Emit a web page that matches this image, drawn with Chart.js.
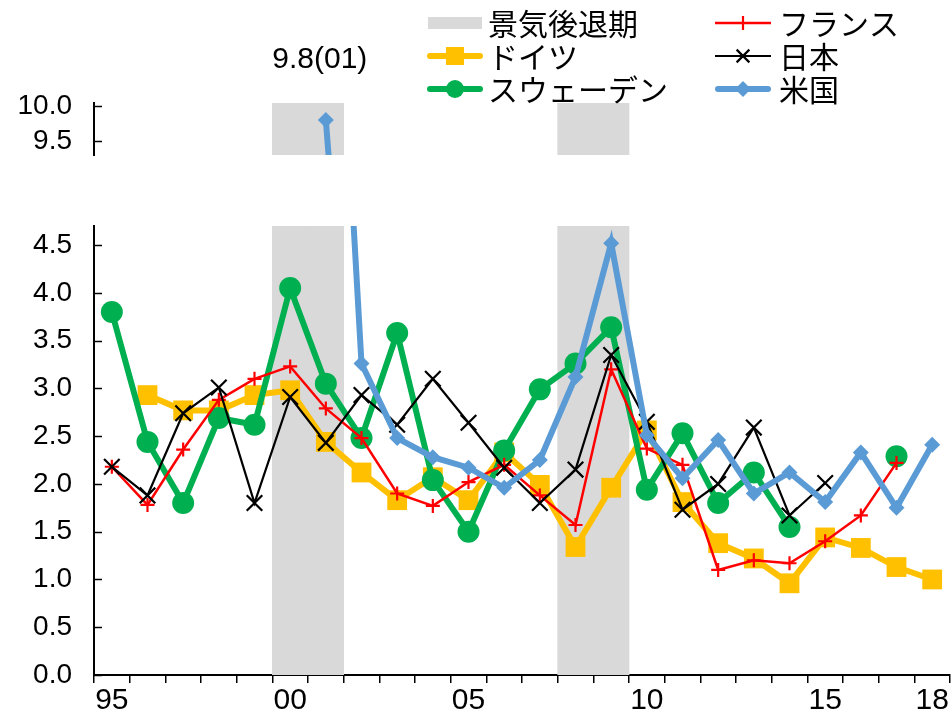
<!DOCTYPE html>
<html lang="ja">
<head>
<meta charset="utf-8">
<title>各国の推移</title>
<script src="https://cdn.jsdelivr.net/npm/chart.js@4.4.1/dist/chart.umd.min.js"></script>
<style>
  html, body { margin: 0; padding: 0; background: #ffffff; }
  #wrap { position: relative; width: 952px; height: 721px; overflow: hidden; }
  #topBox { position: absolute; left: 0; top: 0; width: 952px; height: 170px; }
  #bottomBox { position: absolute; left: 0; top: 170px; width: 952px; height: 551px; }
  canvas { display: block; }
</style>
</head>
<body>
<div id="wrap">
  <div id="topBox"><canvas id="topChart" width="952" height="170"></canvas></div>
  <div id="bottomBox"><canvas id="bottomChart" width="952" height="551"></canvas></div>
</div>
<script>
// ---- data ----
const years = ['1995','1996','1997','1998','1999','2000','2001','2002','2003','2004','2005','2006',
               '2007','2008','2009','2010','2011','2012','2013','2014','2015','2016','2017','2018'];
const yearTickLabels = ['95','','','','','00','','','','','05','','','','','10','','','','','15','','','18'];

// 1 = recession year
const recession = [0,0,0,0,0,1,1,0,0,0,0,0,0,1,1,0,0,0,0,0,0,0,0,0];

const france = [2.18,1.78,2.36,2.88,3.10,3.23,2.79,2.48,1.90,1.77,2.02,2.20,
                1.88,1.57,3.20,2.37,2.20,1.10,1.20,1.17,1.40,1.67,2.22,null];
const germany = [null,2.93,2.77,2.77,2.93,2.98,2.44,2.12,1.83,2.07,1.83,2.33,
                 1.99,1.34,1.96,2.56,1.81,1.38,1.22,0.96,1.44,1.33,1.13,1.00];
const sweden = [3.80,2.44,1.80,2.69,2.62,4.05,3.05,2.48,3.58,2.04,1.50,2.35,
                2.99,3.26,3.64,1.94,2.53,1.80,2.12,1.55,null,null,2.29,null];
const japan = [2.18,1.88,2.74,3.01,1.80,2.91,2.43,2.93,2.62,3.10,2.64,2.17,
               1.80,2.15,3.35,2.65,1.73,2.00,2.59,1.67,2.01,null,null,null];
const usa = [null,null,null,null,null,null,9.8,3.26,2.48,2.28,2.17,1.96,
             2.25,3.12,4.52,2.51,2.06,2.46,1.90,2.12,1.81,2.33,1.75,2.41];

const usPeakLabel = '9.8(01)';
const usPeakIndex = 6;

// upper (broken) axis and lower axis ranges
const upperTicks = [9.5, 10.0];
const upperRange = { min: 9.30, max: 10.043 };
const lowerRange = { min: 0, max: 4.7, step: 0.5 };

// ---- styles ----
const NUM_FONT = "'Liberation Sans', Arial, sans-serif";
const JP_FONT = "'Noto Sans CJK JP', 'Noto Sans', sans-serif";
const GRAY = '#D9D9D9';

const series = [
  { name: 'フランス',   data: france,  color: '#FF0000', width: 2.5, style: 'cross',    radius: 7,  legendR: 7,  order: 4 },
  { name: 'ドイツ',     data: germany, color: '#FFC000', width: 6,   style: 'rect',     radius: 14, legendR: 9,  order: 6 },
  { name: 'スウェーデン', data: sweden,  color: '#00B050', width: 6,   style: 'circle',   radius: 11, legendR: 9,  order: 5 },
  { name: '日本',       data: japan,   color: '#000000', width: 2.2, style: 'crossRot', radius: 11, legendR: 9,  order: 3 },
  { name: '米国',       data: usa,     color: '#5B9BD5', width: 6,   style: 'rectRot',  radius: 8,  legendR: 8,  order: 2 }
];

function buildDatasets(barTop) {
  const list = [{
    type: 'bar',
    label: '景気後退期',
    data: recession.map(f => f ? barTop : null),
    backgroundColor: GRAY,
    borderWidth: 0,
    barPercentage: 1.0,
    categoryPercentage: 1.0,
    order: 10,
    clip: 0
  }];
  series.forEach(s => {
    const solid = (s.style === 'rect' || s.style === 'circle' || s.style === 'rectRot');
    list.push({
      type: 'line',
      label: s.name,
      data: s.data,
      borderColor: s.color,
      borderWidth: s.width,
      backgroundColor: s.color,
      pointStyle: s.style,
      pointRadius: s.radius,
      pointHoverRadius: s.radius,
      pointBackgroundColor: s.color,
      pointBorderColor: s.color,
      pointBorderWidth: solid ? 0 : 2.2,
      borderJoinStyle: 'miter',
      spanGaps: false,
      tension: 0,
      order: s.order,
      clip: 0
    });
  });
  return list;
}

// short y ticks pointing into the plot
const insideTicks = {
  id: 'insideTicks',
  afterDraw(chart) {
    const y = chart.scales.y;
    const left = chart.chartArea.left;
    const ctx = chart.ctx;
    ctx.save();
    ctx.strokeStyle = '#000';
    ctx.lineWidth = 1.5;
    y.ticks.forEach(t => {
      const py = Math.round(y.getPixelForValue(t.value)) + 0.5;
      ctx.beginPath();
      ctx.moveTo(left, py);
      ctx.lineTo(left + 8, py);
      ctx.stroke();
    });
    ctx.restore();
  }
};

function drawMarker(ctx, style, x, y, r, color) {
  ctx.save();
  ctx.fillStyle = color;
  ctx.strokeStyle = color;
  ctx.lineWidth = 2.2;
  ctx.beginPath();
  if (style === 'rect') {
    ctx.rect(x - r, y - r, 2 * r, 2 * r);
    ctx.fill();
  } else if (style === 'circle') {
    ctx.arc(x, y, r, 0, Math.PI * 2);
    ctx.fill();
  } else if (style === 'rectRot') {
    ctx.moveTo(x, y - r); ctx.lineTo(x + r, y); ctx.lineTo(x, y + r); ctx.lineTo(x - r, y);
    ctx.closePath();
    ctx.fill();
  } else if (style === 'cross') {
    ctx.moveTo(x - r, y); ctx.lineTo(x + r, y);
    ctx.moveTo(x, y - r); ctx.lineTo(x, y + r);
    ctx.stroke();
  } else if (style === 'crossRot') {
    const d = r * Math.SQRT1_2;
    ctx.moveTo(x - d, y - d); ctx.lineTo(x + d, y + d);
    ctx.moveTo(x + d, y - d); ctx.lineTo(x - d, y + d);
    ctx.stroke();
  }
  ctx.restore();
}

// legend (two columns) and the out-of-range value note
const legendAndNote = {
  id: 'legendAndNote',
  afterDraw(chart) {
    const ctx = chart.ctx;
    const cols = [{ x0: 427, x1: 483, tx: 488 }, { x0: 715, x1: 771, tx: 779 }];
    const rows = [23, 56, 89];
    const items = [
      { kind: 'box', name: '景気後退期' },
      series[0], series[1], series[3], series[2], series[4]
    ];
    ctx.save();
    ctx.font = '30px ' + JP_FONT;
    ctx.textBaseline = 'middle';
    ctx.textAlign = 'left';
    items.forEach((it, i) => {
      const c = cols[i % 2];
      const y = rows[Math.floor(i / 2)];
      if (it.kind === 'box') {
        ctx.fillStyle = GRAY;
        ctx.fillRect(c.x0 + 1, y - 6, c.x1 - c.x0 - 2, 12);
      } else {
        ctx.save();
        ctx.strokeStyle = it.color;
        ctx.lineWidth = it.width;
        ctx.lineCap = it.width > 4 ? 'round' : 'butt';
        ctx.beginPath();
        ctx.moveTo(c.x0 + (it.width > 4 ? 3 : 0), y);
        ctx.lineTo(c.x1 - (it.width > 4 ? 3 : 0), y);
        ctx.stroke();
        ctx.restore();
        drawMarker(ctx, it.style, (c.x0 + c.x1) / 2, y, it.legendR, it.color);
      }
      ctx.fillStyle = '#000';
      ctx.fillText(it.name, c.tx, y + 1);
    });

    // value note above the US peak
    const meta = chart.getDatasetMeta(5);
    const pt = meta.data[usPeakIndex];
    if (pt) {
      ctx.font = '30px ' + NUM_FONT;
      ctx.textAlign = 'center';
      ctx.fillStyle = '#000';
      ctx.fillText(usPeakLabel, pt.x - 6, 60);
    }
    ctx.restore();
  }
};

// fixed axis sizes; labels may overhang the plot edges
const fixedYWidth = scale => {
  scale.width = 94;
  scale.paddingTop = 0;
  scale.paddingBottom = 0;
};
const fixedXPadding = height => scale => {
  if (height !== null) scale.height = height;
  scale.paddingLeft = 0;
  scale.paddingRight = 0;
};

// ---- upper panel (around 10%) ----
new Chart(document.getElementById('topChart'), {
  type: 'line',
  data: { labels: years, datasets: buildDatasets(upperRange.max) },
  options: {
    responsive: false,
    animation: false,
    events: [],
    layout: { autoPadding: false, padding: { top: 103, bottom: 15, left: 0, right: 2 } },
    plugins: { legend: { display: false }, tooltip: { enabled: false } },
    scales: {
      x: { type: 'category', offset: true, display: false, grid: { offset: true },
           afterFit: fixedXPadding(null) },
      y: {
        min: upperRange.min,
        max: upperRange.max,
        afterFit: fixedYWidth,
        afterBuildTicks: scale => { scale.ticks = upperTicks.map(v => ({ value: v })); },
        grid: { display: false, drawTicks: false },
        border: { display: true, color: '#000', width: 2 },
        ticks: {
          color: '#000',
          padding: 22,
          font: { family: NUM_FONT, size: 28 },
          callback: v => Number(v).toFixed(1)
        }
      }
    }
  },
  plugins: [insideTicks, legendAndNote]
});

// ---- lower panel (0 - 4.7%) ----
new Chart(document.getElementById('bottomChart'), {
  type: 'line',
  data: { labels: years, datasets: buildDatasets(lowerRange.max) },
  options: {
    responsive: false,
    animation: false,
    events: [],
    layout: { autoPadding: false, padding: { top: 56, bottom: 0, left: 0, right: 2 } },
    plugins: { legend: { display: false }, tooltip: { enabled: false } },
    scales: {
      x: {
        type: 'category',
        offset: true,
        afterFit: fixedXPadding(46),
        grid: {
          display: true,
          offset: true,
          drawOnChartArea: false,
          drawTicks: true,
          tickLength: 8,
          color: '#000',
          lineWidth: 1.5
        },
        border: { display: true, color: '#000', width: 2 },
        ticks: {
          color: '#000',
          autoSkip: false,
          maxRotation: 0,
          padding: 0,
          font: { family: NUM_FONT, size: 30 },
          callback: (v, i) => yearTickLabels[i]
        }
      },
      y: {
        min: lowerRange.min,
        max: lowerRange.max,
        afterFit: fixedYWidth,
        grid: { display: false, drawTicks: false },
        border: { display: true, color: '#000', width: 2 },
        ticks: {
          stepSize: lowerRange.step,
          includeBounds: false,
          color: '#000',
          padding: 22,
          font: { family: NUM_FONT, size: 28 },
          callback: v => Number(v).toFixed(1)
        }
      }
    }
  },
  plugins: [insideTicks]
});
</script>
</body>
</html>
